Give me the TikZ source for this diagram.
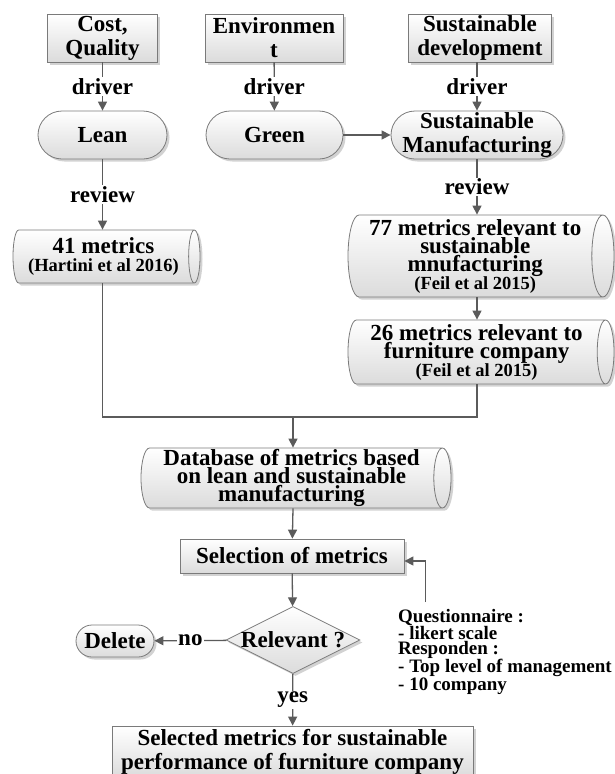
\documentclass[tikz,border=0pt]{standalone}
\usepackage{fontspec}
\setmainfont{Liberation Serif}
\usetikzlibrary{shapes.geometric,shadows,arrows.meta,calc}
\definecolor{edgec}{HTML}{7A7A7A}
\definecolor{linec}{HTML}{5B5B5B}
\newcommand\smalltxt{\fontsize{18.5}{18}\selectfont}
\begin{document}
\begin{tikzpicture}[x=1pt,y=-1pt,
  every node/.style={font=\bfseries\fontsize{23}{24}\selectfont, text=black},
  shp/.style={draw=edgec, line width=0.8pt, top color=white, bottom color=gray!28,
     drop shadow={shadow xshift=2.5pt, shadow yshift=-2.5pt, fill=gray!35, opacity=1},
     inner sep=0pt, align=center},
  box/.style={shp, rectangle},
  stad/.style={shp, rectangle, rounded corners=#1},
  cyl/.style={shp, cylinder, shape border rotate=0, aspect=0.3, anchor=shape center,
     font=\bfseries\fontsize{23}{18}\selectfont},
  ln/.style={draw=linec, line width=1.3pt},
  arr/.style={ln, -{Triangle[length=9pt,width=9pt]}},
  lbl/.style={fill=white, inner sep=1pt}
]
\useasboundingbox (0,0) rectangle (615,774);
\clip (0,0) rectangle (615,774);

% top boxes
\node[box, minimum width=110, minimum height=48] (cq) at (102.5,38) {Cost,\\Quality};
\node[box, minimum width=138, minimum height=48] (env) at (274,38) {Environmen\\t};
\node[box, minimum width=143, minimum height=48] (sd) at (480,38) {Sustainable\\development};

% stadiums
\node[stad=24pt, minimum width=129, minimum height=48] (lean) at (102.5,135) {Lean};
\node[stad=24pt, minimum width=137, minimum height=48] (green) at (274.5,135) {Green};
\node[stad=24pt, minimum width=172, minimum height=48] (smf) at (477,135) {Sustainable\\Manufacturing};

% cylinders (minimum width = cross size, minimum height = length)
\node[cyl, minimum height=187, minimum width=53] (m41) at (106.5,256.5) {41 metrics\\{\smalltxt (Hartini et al 2016)}};
\node[cyl, minimum height=266, minimum width=82] (m77) at (481,256) {77 metrics relevant to\\sustainable\\mnufacturing\\{\smalltxt (Feil et al 2015)}};
\node[cyl, minimum height=266, minimum width=64] (m26) at (481,352) {26 metrics relevant to\\furniture company\\{\smalltxt (Feil et al 2015)}};
\node[cyl, minimum height=310, minimum width=60] (db) at (296,478) {Database of metrics based\\on lean and sustainable\\manufacturing};

% lower part
\node[box, minimum width=224, minimum height=34] (sel) at (292,556) {Selection of metrics};
\node[shp, diamond, minimum width=134, minimum height=67] (rel) at (293,640) {\makebox[0pt]{Relevant ?}};
\node[stad=16pt, minimum width=78, minimum height=32] (del) at (115,641) {Delete};
\node[box, minimum width=361, minimum height=52] (fin) at (292.5,752) {Selected metrics for sustainable\\performance of furniture company};
\node[anchor=north west, align=left, inner sep=0pt, font=\bfseries\fontsize{19}{14.5}\selectfont] (q) at (398,609)
  {Questionnaire :\\- likert scale\\Responden :\\- Top level of management\\- 10 company};

\coordinate (jn) at (293,417);
\coordinate (qa) at (425.5,602);

% connectors
\draw[arr] (cq) -- node[lbl]{driver} (lean);
\draw[arr] (env) -- node[lbl]{driver} (green);
\draw[arr] (sd.south -| smf.north) -- node[lbl]{driver} (smf);
\draw[arr] (green) -- (smf);
\draw[arr] (lean) -- node[lbl]{review} (lean |- m41.north);
\draw[arr] (smf) -- node[lbl]{review} (smf |- m77.north);
\draw[arr] (smf |- m77.south) -- (smf |- m26.north);
\draw[ln] (lean |- m41.south) |- (jn) -| (smf |- m26.south);
\draw[arr] (jn) -- (jn |- db.north);
\draw[arr] (jn |- db.south) -- (sel);
\draw[arr] (sel) -- (rel);
\draw[arr] (rel) -- node[lbl]{no} (del);
\draw[arr] (rel) -- node[lbl]{yes} (fin);
\draw[arr] (qa) |- ([yshift=-5pt]sel.east);
\end{tikzpicture}
\end{document}
